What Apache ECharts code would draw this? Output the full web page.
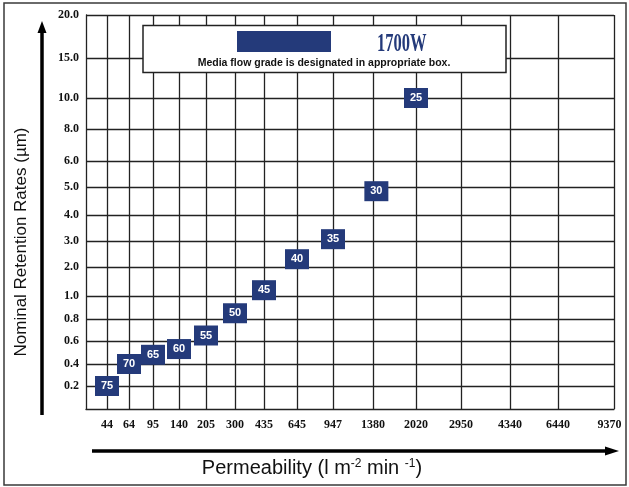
<!DOCTYPE html>
<html>
<head>
<meta charset="utf-8">
<script src="https://cdn.jsdelivr.net/npm/echarts@6/dist/echarts.min.js"></script>
<style>html,body{margin:0;padding:0;background:#fff}#c{width:629px;height:487px}</style>
</head>
<body>
<div id="c"></div>
<script>
// ---- data ----
const grades = [75, 70, 65, 60, 55, 50, 45, 40, 35, 30, 25];
const permeability = [44, 64, 95, 140, 205, 300, 435, 645, 947, 1430, 2020];
const retention = [0.2, 0.4, 0.48, 0.53, 0.65, 0.85, 1.2, 2.3, 3.07, 4.85, 10];

const xTickValues = [44, 64, 95, 140, 205, 300, 435, 645, 947, 1380, 2020, 2950, 4340, 6440, 9370];
const xTickLabels = ['44', '64', '95', '140', '205', '300', '435', '645', '947', '1380', '2020', '2950', '4340', '6440', '9370'];
const yTickValues = [0.2, 0.4, 0.6, 0.8, 1, 2, 3, 4, 5, 6, 8, 10, 15, 20];
const yTickLabels = ['0.2', '0.4', '0.6', '0.8', '1.0', '2.0', '3.0', '4.0', '5.0', '6.0', '8.0', '10.0', '15.0', '20.0'];

// ---- chart's own non-uniform grid scale (axis units where each tick sits) ----
const xStops = [21, 43, 67, 93, 120, 149, 178, 211, 247, 287, 330, 375, 424, 472, 528];
const yStops = [23, 45, 68, 90, 113, 142, 168, 194, 222, 248, 280, 311, 351, 394];

function piecewise(v, vals, stops, v0, s0) {
  const vv = (v0 !== undefined) ? [v0].concat(vals) : vals;
  const ss = (s0 !== undefined) ? [s0].concat(stops) : stops;
  for (let i = 0; i < vv.length - 1; i++) {
    if (v <= vv[i + 1]) {
      const t = (v - vv[i]) / (vv[i + 1] - vv[i]);
      return ss[i] + t * (ss[i + 1] - ss[i]);
    }
  }
  return ss[ss.length - 1];
}
const toX = v => piecewise(v, xTickValues, xStops);
const toY = v => piecewise(v, yTickValues, yStops, 0, 0);

const points = grades.map((g, i) => [toX(permeability[i]), toY(retention[i]), g]);

function lookupIndex(v, stops) {
  for (let i = 0; i < stops.length; i++) if (Math.abs(stops[i] - v) < 0.5) return i;
  return -1;
}

const NAVY = '#243a7a';
const GRID = '#222';

const chart = echarts.init(document.getElementById('c'));
chart.setOption({
  animation: false,
  backgroundColor: '#fff',
  grid: { left: 86, top: 15, width: 528, height: 394, containLabel: false },
  xAxis: {
    type: 'value', min: 0, max: 528,
    axisLine: { show: true, lineStyle: { color: GRID, width: 1.3 } },
    axisTick: { show: false, customValues: xStops },
    splitLine: { show: true, lineStyle: { color: GRID, width: 1.3 } },
    axisLabel: {
      customValues: xStops, margin: 10,
      formatter: v => {
        const i = lookupIndex(v, xStops);
        if (i < 0) return '';
        return i === xStops.length - 1 ? '{last|' + xTickLabels[i] + '}' : xTickLabels[i];
      },
      rich: { last: { fontFamily: 'Liberation Serif', fontWeight: 'bold', fontSize: 12, color: '#111', padding: [0, 9, 0, 0] } },
      fontFamily: 'Liberation Serif', fontWeight: 'bold', fontSize: 12, color: '#111'
    }
  },
  yAxis: {
    type: 'value', min: 0, max: 394,
    axisLine: { show: true, lineStyle: { color: GRID, width: 1.3 } },
    axisTick: { show: false, customValues: yStops },
    splitLine: { show: true, lineStyle: { color: GRID, width: 1.3 } },
    axisLabel: {
      customValues: yStops, margin: 7,
      formatter: v => { const i = lookupIndex(v, yStops); return i < 0 ? '' : yTickLabels[i]; },
      fontFamily: 'Liberation Serif', fontWeight: 'bold', fontSize: 12, color: '#111'
    }
  },
  series: [{
    type: 'scatter',
    name: '1700W',
    symbol: 'rect',
    symbolSize: [24, 20],
    itemStyle: { color: NAVY, opacity: 1 },
    data: points,
    label: {
      show: true, position: 'inside',
      formatter: p => String(p.value[2]),
      color: '#fff', fontWeight: 'bold', fontSize: 11, fontFamily: 'Liberation Sans'
    },
    emphasis: { disabled: true },
    z: 5
  }],
  graphic: [
    { type: 'rect', z: 1, shape: { x: 4, y: 3, width: 622, height: 482 }, style: { fill: 'none', stroke: '#3a3a3a', lineWidth: 1.5 } },
    { type: 'line', z: 1, shape: { x1: 42, y1: 415, x2: 42, y2: 30 }, style: { stroke: '#000', lineWidth: 3.5 } },
    { type: 'polygon', z: 1, shape: { points: [[42, 21], [37.5, 33], [46.5, 33]] }, style: { fill: '#000' } },
    { type: 'line', z: 1, shape: { x1: 92, y1: 451, x2: 608, y2: 451 }, style: { stroke: '#000', lineWidth: 3.5 } },
    { type: 'polygon', z: 1, shape: { points: [[619, 451], [605, 446.5], [605, 455.5]] }, style: { fill: '#000' } },
    { type: 'rect', z: 100, shape: { x: 143, y: 25.5, width: 363, height: 47 }, style: { fill: '#fff', stroke: '#222', lineWidth: 1.5 } },
    { type: 'rect', z: 101, shape: { x: 237, y: 31, width: 94, height: 21 }, style: { fill: NAVY } },
    { type: 'text', z: 101, x: 377, y: 45, scaleX: 0.66, originX: 0, originY: 0,
      style: { text: '1700W', font: 'bold 25px "Liberation Serif"', fill: NAVY, align: 'left', verticalAlign: 'middle' } },
    { type: 'text', z: 101, x: 324, y: 63,
      style: { text: 'Media flow grade is designated in appropriate box.', font: 'bold 10.5px "Liberation Sans"', fill: '#111', align: 'center', verticalAlign: 'middle' } },
    { type: 'text', z: 1, x: 21, y: 242, rotation: Math.PI / 2,
      style: { text: 'Nominal Retention Rates (\u00b5m)', font: '17px "Liberation Sans"', fill: '#111', align: 'center', verticalAlign: 'middle' } },
    { type: 'text', z: 1, x: 312, y: 468,
      style: {
        text: 'Permeability (l m{sup|-2} min {sup|-1})',
        font: '20px "Liberation Sans"', fill: '#111', align: 'center', verticalAlign: 'middle',
        rich: { sup: { fontSize: 12, fontFamily: 'Liberation Sans', fill: '#111', verticalAlign: 'top', padding: [0, 0, 8, 0] } }
      } }
  ]
});
</script>
</body>
</html>
